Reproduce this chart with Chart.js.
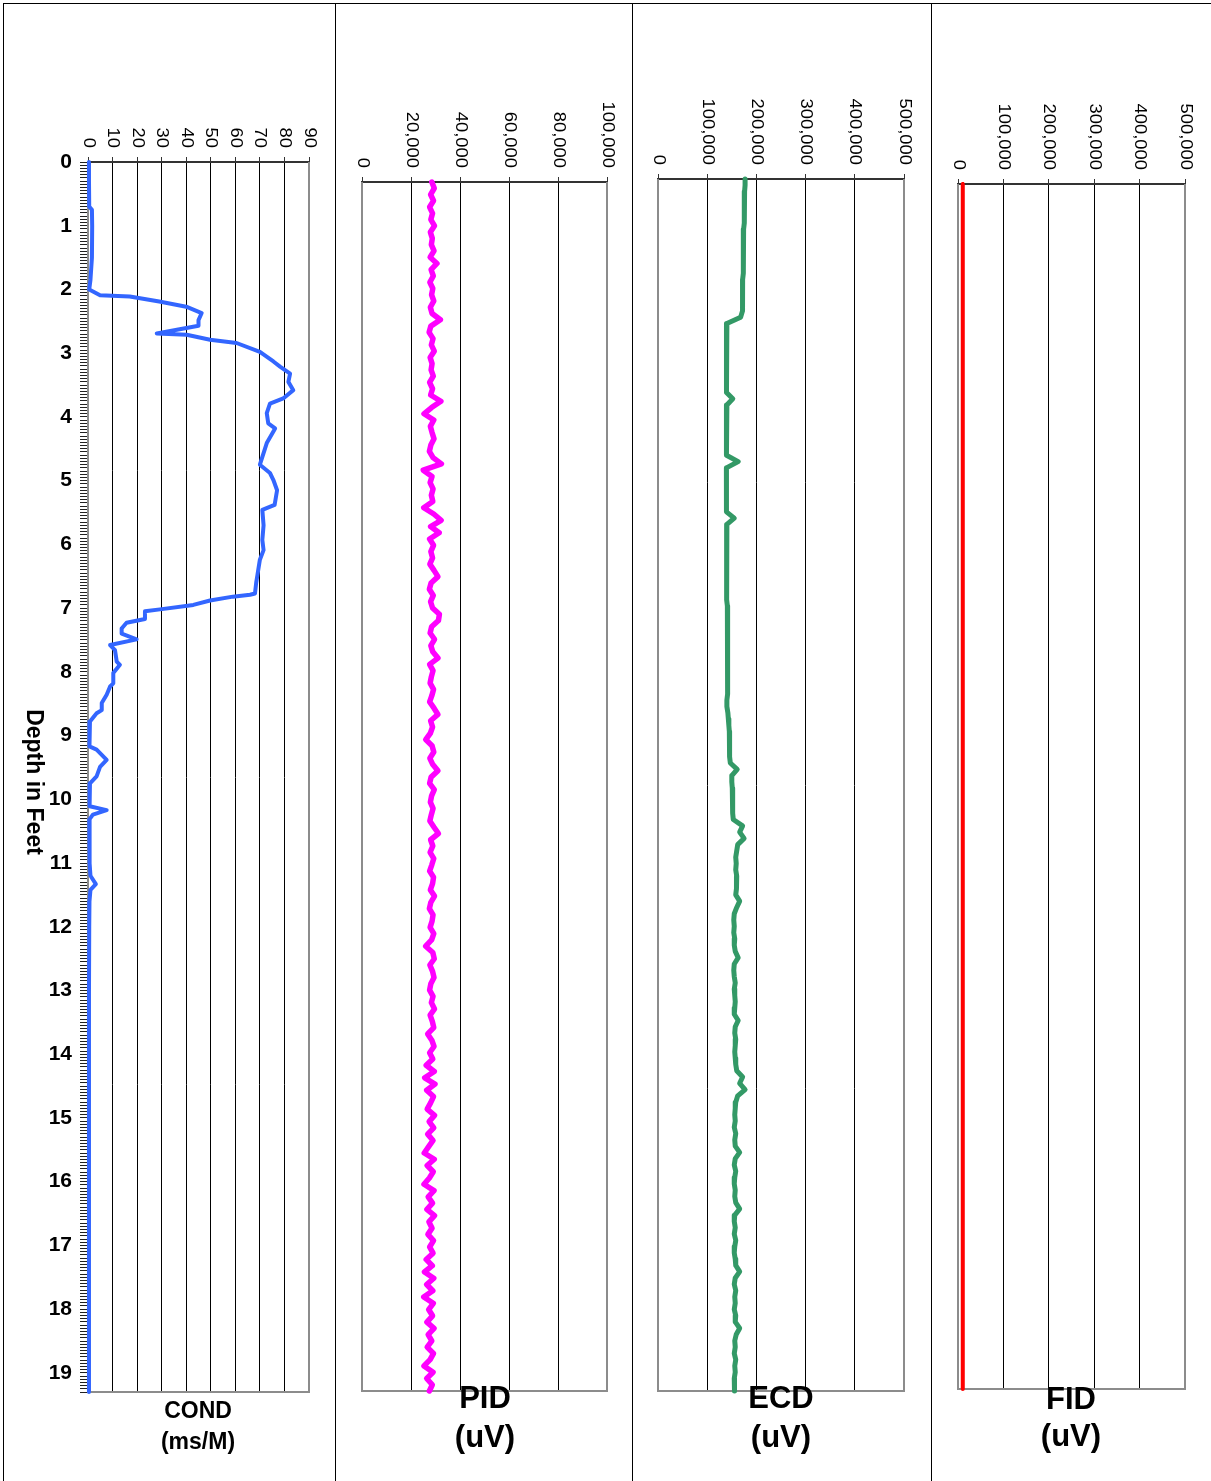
<!DOCTYPE html>
<html>
<head>
<meta charset="utf-8">
<title>Depth log</title>
<script src="https://cdn.jsdelivr.net/npm/chart.js@4.4.1/dist/chart.umd.min.js"></script>
<style>
  html, body { margin: 0; padding: 0; background: #fff; }
  #page { position: relative; width: 1211px; height: 1481px; overflow: hidden;
          font-family: "Liberation Sans", Arial, sans-serif; color: #000; }
  .rule { position: absolute; background: #000; }
  canvas { position: absolute; top: 0; }
  .title { position: absolute; width: 240px; text-align: center; font-weight: bold; white-space: nowrap; }
  #depthTitle { position: absolute; left: -85px; top: 769px; width: 240px; height: 26px; line-height: 26px;
                text-align: center; font-weight: bold; font-size: 23px; transform: rotate(90deg); }
</style>
</head>
<body>
<div id="page">
  <div class="rule" style="left:3px;top:3px;width:1208px;height:1px"></div>
  <div class="rule" style="left:3px;top:3px;width:1px;height:1478px"></div>
  <div class="rule" style="left:335px;top:3px;width:1px;height:1478px"></div>
  <div class="rule" style="left:632px;top:3px;width:1px;height:1478px"></div>
  <div class="rule" style="left:931px;top:3px;width:1px;height:1478px"></div>

  <canvas id="condChart" width="335" height="1481" style="left:0px"></canvas>
  <canvas id="pidChart" width="297" height="1481" style="left:335px"></canvas>
  <canvas id="ecdChart" width="299" height="1481" style="left:632px"></canvas>
  <canvas id="fidChart" width="280" height="1481" style="left:931px"></canvas>

  <div id="depthTitle">Depth in Feet</div>

  <div class="title" style="left:78px;top:1399px;font-size:23px;line-height:23px">COND</div>
  <div class="title" style="left:78px;top:1430px;font-size:23px;line-height:23px">(ms/M)</div>
  <div class="title" style="left:365px;top:1382px;font-size:31px;line-height:31px">PID</div>
  <div class="title" style="left:365px;top:1421px;font-size:31px;line-height:31px">(uV)</div>
  <div class="title" style="left:661px;top:1382px;font-size:31px;line-height:31px">ECD</div>
  <div class="title" style="left:661px;top:1421px;font-size:31px;line-height:31px">(uV)</div>
  <div class="title" style="left:951px;top:1383px;font-size:31px;line-height:31px">FID</div>
  <div class="title" style="left:951px;top:1420px;font-size:31px;line-height:31px">(uV)</div>
</div>

<script>
// Depth of the gas detector readings (ft)
const depthFt = [
  0.0, 0.1, 0.2, 0.3, 0.4, 0.5, 0.6, 0.7, 0.8, 0.9,
  1.0, 1.1, 1.2, 1.3, 1.4, 1.5, 1.6, 1.7, 1.8, 1.9,
  2.0, 2.1, 2.2, 2.3, 2.4, 2.5, 2.6, 2.7, 2.8, 2.9,
  3.0, 3.1, 3.2, 3.3, 3.4, 3.5, 3.6, 3.7, 3.8, 3.9,
  4.0, 4.1, 4.2, 4.3, 4.4, 4.5, 4.6, 4.7, 4.8, 4.9,
  5.0, 5.1, 5.2, 5.3, 5.4, 5.5, 5.6, 5.7, 5.8, 5.9,
  6.0, 6.1, 6.2, 6.3, 6.4, 6.5, 6.6, 6.7, 6.8, 6.9,
  7.0, 7.1, 7.2, 7.3, 7.4, 7.5, 7.6, 7.7, 7.8, 7.9,
  8.0, 8.1, 8.2, 8.3, 8.4, 8.5, 8.6, 8.7, 8.8, 8.9,
  9.0, 9.1, 9.2, 9.3, 9.4, 9.5, 9.6, 9.7, 9.8, 9.9,
  10.0, 10.1, 10.2, 10.3, 10.4, 10.5, 10.6, 10.7, 10.8, 10.9,
  11.0, 11.1, 11.2, 11.3, 11.4, 11.5, 11.6, 11.7, 11.8, 11.9,
  12.0, 12.1, 12.2, 12.3, 12.4, 12.5, 12.6, 12.7, 12.8, 12.9,
  13.0, 13.1, 13.2, 13.3, 13.4, 13.5, 13.6, 13.7, 13.8, 13.9,
  14.0, 14.1, 14.2, 14.3, 14.4, 14.5, 14.6, 14.7, 14.8, 14.9,
  15.0, 15.1, 15.2, 15.3, 15.4, 15.5, 15.6, 15.7, 15.8, 15.9,
  16.0, 16.1, 16.2, 16.3, 16.4, 16.5, 16.6, 16.7, 16.8, 16.9,
  17.0, 17.1, 17.2, 17.3, 17.4, 17.5, 17.6, 17.7, 17.8, 17.9,
  18.0, 18.1, 18.2, 18.3, 18.4, 18.5, 18.6, 18.7, 18.8, 18.9,
  19.0, 19.1, 19.2, 19.3
];

// Conductivity log (ms/M)
const condDepth = [
  0, 0.3, 0.7, 0.75, 1.0, 1.5, 1.85, 2.0, 2.09, 2.11,
  2.19, 2.27, 2.37, 2.48, 2.57, 2.69, 2.71, 2.79, 2.84, 2.98,
  3.13, 3.21, 3.32, 3.45, 3.58, 3.71, 3.79, 3.94, 4.10, 4.18,
  4.41, 4.75, 4.88, 4.99, 5.15, 5.38, 5.46, 5.70, 5.93, 6.09,
  6.24, 6.48, 6.60, 6.77, 6.79, 6.82, 6.88, 6.95, 7.02, 7.05,
  7.17, 7.23, 7.32, 7.40, 7.49, 7.58, 7.66, 7.84, 7.89, 8.02,
  8.18, 8.23, 8.36, 8.49, 8.60, 8.65, 8.78, 8.88, 9.07, 9.17,
  9.22, 9.38, 9.49, 9.64, 9.75, 10.01, 10.11, 10.17, 10.24, 10.32,
  10.60, 11.00, 11.20, 11.33, 11.42, 11.60, 12.00, 13.00, 14.00, 15.00,
  16.00, 17.00, 18.00, 19.00, 19.30
];
const condValues = [
  0.4, 0.4, 0.5, 1.6, 1.7, 1.6, 1.0, 0.5, 4.9, 17,
  29, 40, 46.3, 45, 45, 28, 40.2, 49.7, 60.5, 70,
  75.5, 78.2, 82.3, 81.6, 83.6, 79.5, 74.1, 72.8, 73.4, 76.2,
  72.8, 70, 74.1, 75.5, 77, 76, 71, 71.5, 71, 71.5,
  70, 69, 68.5, 68, 66, 59, 49.7, 42.9, 29.3, 23.2,
  23.2, 15.7, 13.7, 13.7, 19.8, 9, 11, 11.7, 13, 10.3,
  10.3, 9, 7.6, 5.6, 5.6, 3.5, 0.8, 0.5, 0.8, 0.5,
  3.5, 7.6, 4.9, 3.5, 0.8, 0.5, 0.8, 7.6, 2, 0.5,
  0.6, 0.7, 1.0, 3.2, 1.0, 0.6, 0.5, 0.4, 0.4, 0.4,
  0.4, 0.4, 0.4, 0.4, 0.4
];

// PID (uV), one reading per depthFt entry
const pidValues = [
  28500, 29500, 28000, 29200, 27600, 28800, 28100, 29600, 27900, 28700,
  28300, 29400, 27800, 30600, 28200, 29100, 27700, 28900, 28400, 29300,
  27900, 28600, 32000, 28100, 27400, 29000, 28300, 29500, 27800, 28600,
  28200, 29100, 27600, 28800, 28000, 32200, 28400, 25300, 29300, 27900,
  28600, 29400, 28100, 27500, 29000, 32400, 25000, 28600, 27800, 29000,
  28300, 28900, 25200, 29300, 32300, 28000, 31500, 27600, 29200, 28100,
  28800, 27700, 29400, 31000, 28200, 27500, 29100, 28000, 28800, 31600,
  31200, 28400, 27800, 29600, 28100, 28900, 31000, 27600, 29000, 28300,
  27800, 29200, 28500, 27600, 29400, 31000, 28000, 28800, 27900, 26000,
  28600, 29300, 27700, 28900, 31000, 28200, 27600, 29500, 28400, 27900,
  29000, 28300, 27700, 29400, 31200, 28000, 28900, 27800, 29300, 28500,
  27600, 29200, 28800, 27900, 29600, 28100, 27500, 29000, 28600, 27800,
  29300, 28400, 26000, 28900, 29500, 27700, 28800, 29400, 28100, 27600,
  29000, 28300, 29600, 27800, 28700, 29300, 26800, 28500, 29400, 27600,
  28900, 26200, 29500, 25600, 29800, 26400, 29200, 28000, 26600, 29600,
  27400, 29300, 26800, 29000, 27200, 25400, 29500, 26600, 29100, 27500,
  25300, 29400, 27000, 28800, 26500, 29600, 27300, 28600, 26900, 29200,
  27600, 29000, 26200, 28700, 25500, 29300, 26400, 28900, 25200, 29100,
  27200, 28800, 26500, 29400, 27000, 28500, 26600, 29200, 27800, 25300,
  29000, 26400, 28700, 27500
];

// ECD (uV), one reading per depthFt entry
const ecdValues = [
  177000, 177000, 176000, 176000, 176000, 175000, 175000, 175000, 174000, 174000,
  174000, 174000, 173000, 173000, 173000, 173000, 172000, 172000, 172000, 172000,
  172000, 171000, 168000, 140000, 139000, 139000, 139000, 140000, 139000, 139000,
  139000, 139000, 139000, 140000, 139000, 152000, 140000, 139000, 139000, 139000,
  139000, 139000, 139000, 140000, 139000, 163000, 139000, 139000, 139000, 139000,
  139000, 140000, 139000, 139000, 155000, 140000, 139000, 139000, 139000, 139000,
  139000, 139000, 140000, 140000, 140000, 140000, 140000, 140000, 141000, 141000,
  141000, 141000, 141000, 141000, 141000, 141000, 142000, 142000, 142000, 142000,
  142000, 142000, 142000, 140000, 140000, 142000, 143000, 144000, 145000, 145000,
  145000, 146000, 146000, 147000, 161000, 150000, 150000, 151000, 152000, 152000,
  151000, 152000, 153000, 172000, 166000, 175000, 162000, 160000, 158000, 159000,
  158000, 160000, 159000, 160000, 158000, 166000, 160000, 155000, 154000, 155000,
  154000, 156000, 155000, 157000, 163000, 155000, 154000, 155000, 157000, 155000,
  156000, 157000, 156000, 155000, 163000, 157000, 156000, 158000, 157000, 156000,
  157000, 158000, 160000, 172000, 166000, 177000, 162000, 158000, 157000, 156000,
  157000, 155000, 158000, 156000, 157000, 166000, 157000, 155000, 158000, 156000,
  155000, 157000, 156000, 158000, 166000, 156000, 155000, 157000, 155000, 158000,
  156000, 155000, 157000, 158000, 166000, 157000, 155000, 158000, 156000, 157000,
  155000, 158000, 157000, 166000, 159000, 156000, 157000, 155000, 158000, 156000,
  157000, 155000, 156000, 155000
];

// FID (uV), coarser sampling
const fidDepth = [
  0.0, 0.5, 1.0, 1.5, 2.0, 2.5, 3.0, 3.5, 4.0, 4.5,
  5.0, 5.5, 6.0, 6.5, 7.0, 7.5, 8.0, 8.5, 9.0, 9.5,
  10.0, 10.5, 11.0, 11.5, 12.0, 12.5, 13.0, 13.5, 14.0, 14.5,
  15.0, 15.5, 16.0, 16.5, 17.0, 17.5, 18.0, 18.5, 19.0, 19.3
];
const fidValues = [
  10500, 10800, 10200, 10900, 10400, 10700, 10300, 10600, 10900, 10200,
  10500, 10800, 10300, 10600, 10400, 10900, 10200, 10700, 10500, 10300,
  10800, 10400, 10600, 10200, 10900, 10500, 10300, 10700, 10400, 10800,
  10200, 10600, 10500, 10900, 10300, 10700, 10400, 10600, 10500, 10400
];

// Axis tick labels
const condTicks = [0, 10, 20, 30, 40, 50, 60, 70, 80, 90];
const pidTicks = [0, 20000, 40000, 60000, 80000, 100000];
const gasTicks = [0, 100000, 200000, 300000, 400000, 500000];
const depthRange = [0, 19.3];

const FONT = '"Liberation Sans", Arial, sans-serif';

// zip readings with their depths
function points(depths, values) {
    return values.map((v, i) => ({ x: v, y: depths[i] }));
}

// gray box round the plot area (top is drawn by the x axis)
const frame = {
    id: "frame",
    beforeDatasetsDraw(chart) {
        const { ctx, chartArea: a } = chart;
        ctx.save();
        ctx.strokeStyle = "#8c8c8c";
        ctx.lineWidth = 2;
        ctx.beginPath();
        ctx.moveTo(a.left, a.top);
        ctx.lineTo(a.left, a.bottom);
        ctx.lineTo(a.right, a.bottom);
        ctx.lineTo(a.right, a.top);
        ctx.stroke();
        ctx.restore();
    }
};

// top tick labels, turned a quarter clockwise
const topLabels = {
    id: "topLabels",
    afterDraw(chart, args, opts) {
        const scale = chart.scales.x;
        const ctx = chart.ctx;
        ctx.save();
        ctx.font = opts.size + "px " + FONT;
        ctx.fillStyle = "#000";
        ctx.textAlign = "right";
        ctx.textBaseline = "middle";
        scale.ticks.forEach((t, i) => {
            ctx.save();
            ctx.translate(scale.getPixelForTick(i), chart.chartArea.top - opts.gap);
            ctx.scale(1, opts.stretch);
            ctx.rotate(Math.PI / 2);
            ctx.fillText(t.value.toLocaleString("en-US"), 0, 0);
            ctx.restore();
        });
        ctx.restore();
    }
};

function makeChart(id, cfg) {
    const ticks = cfg.ticks;
    const showDepth = !!cfg.depthAxis;
    return new Chart(document.getElementById(id), {
        type: "line",
        data: {
            datasets: [{
                data: cfg.data,
                borderColor: cfg.color,
                borderWidth: cfg.width,
                pointRadius: 0,
                tension: 0,
                borderJoinStyle: "round",
                borderCapStyle: "round",
                clip: 8
            }]
        },
        options: {
            indexAxis: "y",
            responsive: false,
            animation: false,
            devicePixelRatio: 1,
            layout: { padding: cfg.padding },
            plugins: {
                legend: { display: false },
                tooltip: { enabled: false },
                topLabels: { size: cfg.labelSize, gap: 14, stretch: 1.15 }
            },
            scales: {
                x: {
                    type: "linear",
                    position: "top",
                    min: ticks[0],
                    max: ticks[ticks.length - 1],
                    afterFit: s => { s.height = 5; s.paddingLeft = 0; s.paddingRight = 0; },
                    ticks: { display: false, stepSize: ticks[1] - ticks[0], autoSkip: false },
                    grid: { color: "#000", lineWidth: 1, tickLength: 5, tickColor: "#333" },
                    border: { display: true, color: "#333", width: 2 }
                },
                y: {
                    type: "linear",
                    display: showDepth,
                    reverse: true,
                    min: depthRange[0],
                    max: depthRange[1],
                    afterFit: s => {
                        s.width = showDepth ? 88 : 0;
                        s.paddingTop = 0;
                        s.paddingBottom = 0;
                    },
                    ticks: {
                        stepSize: 0.05,
                        autoSkip: false,
                        padding: 8,
                        color: "#000",
                        font: { family: FONT, size: 21, weight: "bold" },
                        callback: v => Math.abs(v - Math.round(v)) < 1e-6 ? String(Math.round(v)) : ""
                    },
                    grid: { drawOnChartArea: false, tickLength: 8, color: "#222", lineWidth: 1 },
                    border: { display: true, color: "#8c8c8c", width: 2 }
                }
            }
        },
        plugins: [frame, topLabels]
    });
}

makeChart("condChart", {
    data: points(condDepth, condValues),
    color: "#3366FF", width: 4, ticks: condTicks, labelSize: 16, depthAxis: true,
    padding: { left: 0, right: 26, top: 157, bottom: 89 }
});
makeChart("pidChart", {
    data: points(depthFt, pidValues),
    color: "#FF00FF", width: 5.5, ticks: pidTicks, labelSize: 16,
    padding: { left: 27, right: 25, top: 177, bottom: 90 }
});
makeChart("ecdChart", {
    data: points(depthFt, ecdValues),
    color: "#339966", width: 5, ticks: gasTicks, labelSize: 16,
    padding: { left: 26, right: 27, top: 174, bottom: 90 }
});
makeChart("fidChart", {
    data: points(fidDepth, fidValues),
    color: "#FF0000", width: 4, ticks: gasTicks, labelSize: 16,
    padding: { left: 27, right: 26, top: 179, bottom: 92 }
});
</script>
</body>
</html>
